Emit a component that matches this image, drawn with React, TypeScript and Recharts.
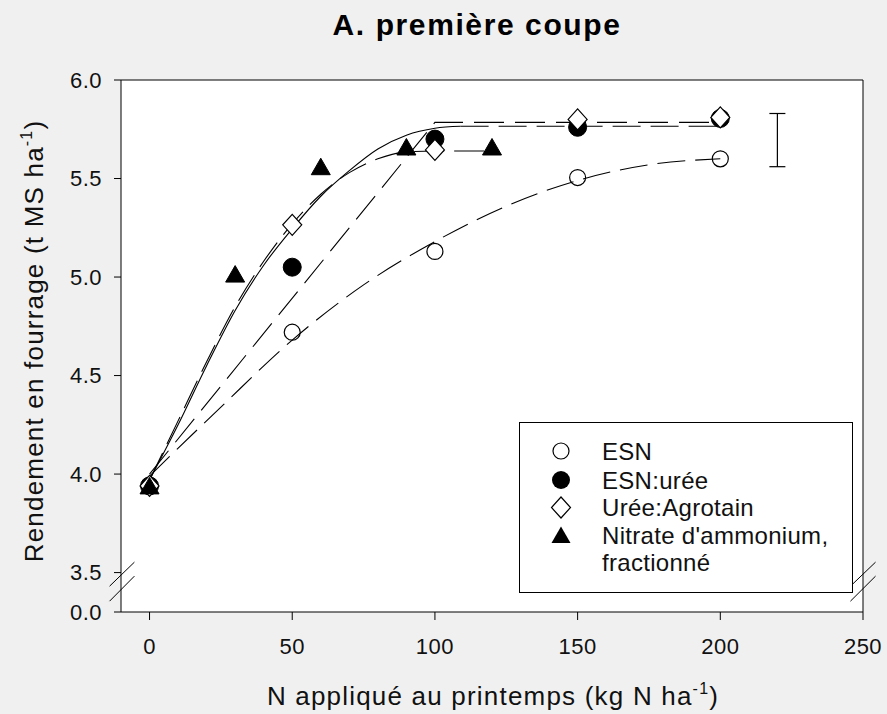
import React from 'react';
import {
  ComposedChart,
  Line,
  Scatter,
  XAxis,
  YAxis,
  CartesianGrid,
  ReferenceLine,
  ErrorBar,
} from 'recharts';

// ---- measured points ----
const nLevels = [0, 50, 100, 150, 200];
const esnYield = [3.94, 4.72, 5.13, 5.505, 5.6];
const esnUreeYield = [3.94, 5.05, 5.7, 5.76, 5.805];
const agrotainYield = [3.94, 5.265, 5.645, 5.8, 5.81];
const nitrateLevels = [0, 30, 60, 90, 120];
const nitrateYield = [3.94, 5.015, 5.56, 5.66, 5.66];

// ---- fitted curves ----
const esnFitX = [0, 25, 50, 75, 100, 125, 150, 175, 200];
const esnFitY = [3.99, 4.34, 4.68, 4.96, 5.18, 5.36, 5.49, 5.57, 5.6];
const esnUreeFitX = [0, 100, 200];
const esnUreeFitY = [4.0, 5.785, 5.785];
const agrotainFitX = [0, 10, 20, 30, 40, 50, 60, 70, 80, 90, 100, 109];
const agrotainFitY = [3.97, 4.25, 4.55, 4.83, 5.06, 5.245, 5.41, 5.54, 5.65, 5.72, 5.755, 5.765];
const agrotainPlateauX = [109, 200];
const agrotainPlateauY = [5.765, 5.765];
const nitrateFitX = [0, 10, 20, 30, 40, 50, 60, 70, 80, 90, 100, 120];
const nitrateFitY = [3.97, 4.27, 4.57, 4.85, 5.08, 5.27, 5.42, 5.53, 5.6, 5.635, 5.64, 5.64];

// ---- LSD bar ----
const lsdX = 220;
const lsdLow = 5.56;
const lsdHigh = 5.83;

// ---- axes ----
const xTicks = [0, 50, 100, 150, 200, 250];
const yTicks = [3.3, 3.5, 4.0, 4.5, 5.0, 5.5, 6.0];
const xDomain = [-10, 250];
const yDomain = [3.3, 6.0];

const legendLabels = ['ESN', 'ESN:urée', 'Urée:Agrotain', "Nitrate d'ammonium,", 'fractionné'];

const zip = (xs: number[], ys: number[]) => xs.map((x, i) => ({ x, y: ys[i] }));

const esnPts = zip(nLevels, esnYield);
const ureePts = zip(nLevels, esnUreeYield);
const agroPts = zip(nLevels, agrotainYield);
const nitPts = zip(nitrateLevels, nitrateYield);
const esnFit = zip(esnFitX, esnFitY);
const ureeFit = zip(esnUreeFitX, esnUreeFitY);
const agroFit = zip(agrotainFitX, agrotainFitY);
const agroPlateau = zip(agrotainPlateauX, agrotainPlateauY);
const nitFit = zip(nitrateFitX, nitrateFitY);
const lsdData = [{ x: lsdX, y: (lsdLow + lsdHigh) / 2, err: (lsdHigh - lsdLow) / 2 }];

const FONT = '"Liberation Sans", Arial, sans-serif';

const OpenCircle = (p: any) =>
  p.cx == null ? null : <circle cx={p.cx} cy={p.cy} r={8} fill="none" stroke="#000" strokeWidth={1.2} />;
const FilledCircle = (p: any) =>
  p.cx == null ? null : <circle cx={p.cx} cy={p.cy} r={9} fill="#000" stroke="#000" />;
const Diamond = (p: any) =>
  p.cx == null ? null : (
    <path
      d={`M${p.cx},${p.cy - 10.5} L${p.cx + 9.5},${p.cy} L${p.cx},${p.cy + 10.5} L${p.cx - 9.5},${p.cy} Z`}
      fill="#fff"
      stroke="#000"
      strokeWidth={1.2}
    />
  );
const Triangle = (p: any) =>
  p.cx == null ? null : (
    <path
      d={`M${p.cx},${p.cy - 8.5} L${p.cx + 9.5},${p.cy + 8} L${p.cx - 9.5},${p.cy + 8} Z`}
      fill="#000"
      stroke="#000"
    />
  );
const Nothing = () => null;

const tickStyle = { fontFamily: FONT, fontSize: 22, fill: '#111', letterSpacing: 0.5 };

export default function App() {
  return (
    <div style={{ position: 'absolute', left: 0, top: 0, width: 887, height: 714, background: '#f0f0f0' }}>
      <ComposedChart
        width={887}
        height={714}
        margin={{ top: 80, right: 24, bottom: 42, left: 41 }}
      >
        <CartesianGrid horizontal={false} vertical={false} fill="#ffffff" />
        <XAxis
          type="number"
          dataKey="x"
          domain={xDomain}
          ticks={xTicks}
          allowDataOverflow
          height={60}
          tickSize={8}
          tickMargin={18}
          stroke="#000"
          tick={tickStyle}
          tickLine={{ stroke: '#000' }}
          axisLine={{ stroke: '#000' }}
        />
        <YAxis
          type="number"
          dataKey="y"
          domain={yDomain}
          ticks={yTicks}
          allowDataOverflow
          width={80}
          tickSize={7}
          tickMargin={12}
          stroke="#000"
          tick={tickStyle}
          tickFormatter={(v: number) => (v < 3.4 ? '0.0' : v.toFixed(1))}
          tickLine={{ stroke: '#000' }}
          axisLine={{ stroke: '#000' }}
        />
        <ReferenceLine y={6} stroke="#000" strokeWidth={1} />
        <ReferenceLine x={250} stroke="#000" strokeWidth={1} />
        {/* axis break marks */}
        <ReferenceLine segment={[{ x: -14, y: 3.431 }, { x: -5.3, y: 3.553 }]} stroke="#000" ifOverflow="visible" />
        <ReferenceLine segment={[{ x: -14, y: 3.355 }, { x: -5.3, y: 3.482 }]} stroke="#000" ifOverflow="visible" />
        <ReferenceLine segment={[{ x: 245.6, y: 3.431 }, { x: 254.4, y: 3.553 }]} stroke="#000" ifOverflow="visible" />
        <ReferenceLine segment={[{ x: 245.6, y: 3.355 }, { x: 254.4, y: 3.482 }]} stroke="#000" ifOverflow="visible" />

        <Scatter data={esnPts} shape={OpenCircle} isAnimationActive={false} />
        <Scatter data={ureePts} shape={FilledCircle} isAnimationActive={false} />
        <Scatter data={agroPts} shape={Diamond} isAnimationActive={false} />
        <Scatter data={nitPts} shape={Triangle} isAnimationActive={false} />

        <Line data={esnFit} dataKey="y" type="monotone" stroke="#000" strokeWidth={1.1} strokeDasharray="28 10" dot={false} isAnimationActive={false} />
        <Line data={ureeFit} dataKey="y" type="linear" stroke="#000" strokeWidth={1.1} strokeDasharray="30 11" dot={false} isAnimationActive={false} />
        <Line data={agroFit} dataKey="y" type="monotone" stroke="#000" strokeWidth={1.1} dot={false} isAnimationActive={false} />
        <Line data={agroPlateau} dataKey="y" type="linear" stroke="#000" strokeWidth={1.1} strokeDasharray="28 10" dot={false} isAnimationActive={false} />
        <Line data={nitFit} dataKey="y" type="monotone" stroke="#000" strokeWidth={1.1} strokeDasharray="30 10" dot={false} isAnimationActive={false} />

        <Scatter data={lsdData} shape={Nothing} isAnimationActive={false}>
          <ErrorBar dataKey="err" direction="y" width={8} stroke="#000" strokeWidth={1.2} />
        </Scatter>
      </ComposedChart>

      <svg
        width={887}
        height={714}
        style={{ position: 'absolute', left: 0, top: 0, pointerEvents: 'none' }}
      >
        <text x={477} y={35} textAnchor="middle" fontFamily={FONT} fontSize={30} fontWeight="bold" letterSpacing={1.6} fill="#000">
          A. première coupe
        </text>
        <text x={493} y={705} textAnchor="middle" fontFamily={FONT} fontSize={26} letterSpacing={1.2} fill="#111">
          N appliqué au printemps (kg N ha
          <tspan fontSize={16} dy={-11}>-1</tspan>
          <tspan dy={11}>)</tspan>
        </text>
        <text
          x={0}
          y={0}
          transform="translate(43,341) rotate(-90)"
          textAnchor="middle"
          fontFamily={FONT}
          fontSize={26}
          letterSpacing={1.2}
          fill="#111"
        >
          Rendement en fourrage (t MS ha
          <tspan fontSize={16} dy={-11}>-1</tspan>
          <tspan dy={11}>)</tspan>
        </text>

        {/* legend */}
        <rect x={519.5} y={422.5} width={333} height={170} fill="#fff" stroke="#000" strokeWidth={1} />
        <circle cx={561} cy={451} r={8} fill="none" stroke="#000" strokeWidth={1.2} />
        <circle cx={561} cy={480} r={9} fill="#000" />
        <path d="M561,497 L570.5,507.5 L561,518 L551.5,507.5 Z" fill="#fff" stroke="#000" strokeWidth={1.2} />
        <path d="M561,526.5 L570.5,543 L551.5,543 Z" fill="#000" />
        {legendLabels.map((t, i) => (
          <text
            key={t}
            x={602}
            y={[451, 480, 507.5, 535, 562][i] + 8.5}
            fontFamily={FONT}
            fontSize={24}
            letterSpacing={0.3}
            fill="#111"
          >
            {t}
          </text>
        ))}
      </svg>
    </div>
  );
}
